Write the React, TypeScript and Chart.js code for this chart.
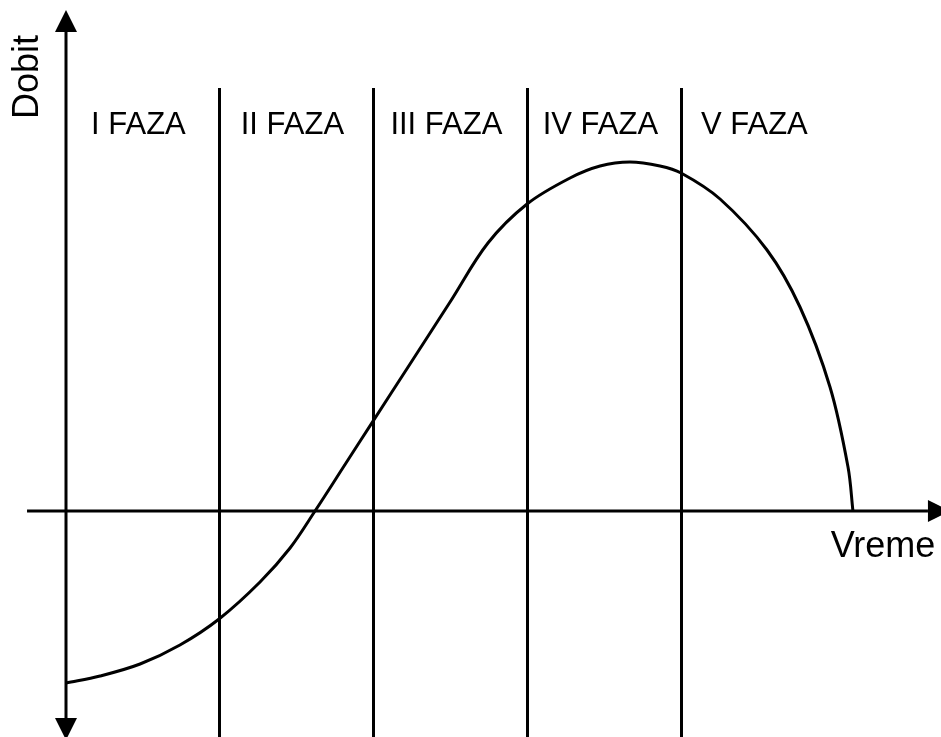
import React, { useEffect, useRef } from "react";
import { Chart, registerables } from "chart.js";

Chart.register(...registerables);

// Profit curve over the product life cycle (time in phases, profit in arbitrary units)
const timeValues = [
  0, 0.221, 0.481, 0.74, 0.994, 1.26, 1.455, 1.617, 1.812, 1.994, 2.234, 2.494,
  2.74, 2.994, 3.273, 3.468, 3.662, 3.857, 3.994, 4.247, 4.552, 4.766, 4.961,
  5.078, 5.11,
];
const profitValues = [
  -1.72, -1.65, -1.53, -1.34, -1.08, -0.71, -0.37, 0, 0.465, 0.899, 1.47, 2.09,
  2.68, 3.07, 3.33, 3.45, 3.49, 3.45, 3.38, 3.12, 2.61, 2.04, 1.24, 0.44, 0,
];
const phaseLabels = ["I FAZA", "II FAZA", "III FAZA", "IV FAZA", "V FAZA"];
const phaseBoundaries = [1, 2, 3, 4];
const yAxisTitle = "Dobit";
const xAxisTitle = "Vreme";

const FONT = '"Liberation Sans", Arial, sans-serif';

const diagramPlugin = {
  id: "lifeCycleDiagram",
  afterDraw(chart: any) {
    const { ctx } = chart;
    const xs = chart.scales.x;
    const ys = chart.scales.y;
    const px = (v: number) => xs.getPixelForValue(v);
    const py = (v: number) => ys.getPixelForValue(v);

    ctx.save();
    ctx.strokeStyle = "#000";
    ctx.fillStyle = "#000";
    ctx.lineWidth = 3;
    ctx.lineCap = "butt";

    const x0 = px(0);
    const y0 = py(0);
    const arrowLen = 22;
    const arrowHalf = 11;

    // phase separators
    const sepTop = py(4.23);
    const bottom = chart.height;
    phaseBoundaries.forEach((b) => {
      const x = Math.round(px(b)) - 0.5;
      ctx.beginPath();
      ctx.moveTo(x, sepTop);
      ctx.lineTo(x, bottom);
      ctx.stroke();
    });

    // vertical axis with arrows at both ends
    const yTop = py(5.01);
    const yBot = py(-2.29);
    ctx.beginPath();
    ctx.moveTo(x0, yTop + arrowLen);
    ctx.lineTo(x0, yBot - arrowLen);
    ctx.stroke();
    ctx.beginPath();
    ctx.moveTo(x0, yTop);
    ctx.lineTo(x0 - arrowHalf, yTop + arrowLen);
    ctx.lineTo(x0 + arrowHalf, yTop + arrowLen);
    ctx.closePath();
    ctx.fill();
    ctx.beginPath();
    ctx.moveTo(x0, yBot);
    ctx.lineTo(x0 - arrowHalf, yBot - arrowLen);
    ctx.lineTo(x0 + arrowHalf, yBot - arrowLen);
    ctx.closePath();
    ctx.fill();

    // horizontal axis with arrow
    const xStart = px(-0.253);
    const xEnd = px(5.74);
    ctx.beginPath();
    ctx.moveTo(xStart, y0);
    ctx.lineTo(xEnd - arrowLen, y0);
    ctx.stroke();
    ctx.beginPath();
    ctx.moveTo(xEnd, y0);
    ctx.lineTo(xEnd - arrowLen, y0 - arrowHalf);
    ctx.lineTo(xEnd - arrowLen, y0 + arrowHalf);
    ctx.closePath();
    ctx.fill();

    // phase labels
    ctx.font = `31px ${FONT}`;
    ctx.textAlign = "center";
    ctx.textBaseline = "alphabetic";
    phaseLabels.forEach((label, i) => {
      ctx.fillText(label, px(i + 0.47), py(3.77));
    });

    // axis titles
    ctx.font = `36px ${FONT}`;
    ctx.textAlign = "right";
    ctx.fillText(xAxisTitle, px(5.645), py(-0.46));

    ctx.save();
    ctx.translate(px(-0.18), py(4.34));
    ctx.rotate(-Math.PI / 2);
    ctx.textAlign = "center";
    ctx.fillText(yAxisTitle, 0, 0);
    ctx.restore();

    ctx.restore();
  },
};

export default function App() {
  const canvasRef = useRef<HTMLCanvasElement | null>(null);

  useEffect(() => {
    if (!canvasRef.current) return;
    const points = timeValues.map((t, i) => ({ x: t, y: profitValues[i] }));
    const chart = new Chart(canvasRef.current, {
      type: "line",
      data: {
        datasets: [
          {
            data: points,
            borderColor: "#000",
            borderWidth: 3,
            pointRadius: 0,
            fill: false,
            tension: 0.35,
          },
        ],
      },
      options: {
        responsive: false,
        maintainAspectRatio: false,
        animation: false,
        layout: { padding: 0 },
        plugins: {
          legend: { display: false },
          tooltip: { enabled: false },
        },
        scales: {
          x: { type: "linear", display: false, min: -66 / 154, max: 875 / 154 },
          y: { type: "linear", display: false, min: -2.26, max: 5.11 },
        },
      },
      plugins: [diagramPlugin],
    });
    return () => chart.destroy();
  }, []);

  return (
    <div style={{ position: "fixed", left: 0, top: 0, width: 941, height: 737, background: "#fff" }}>
      <canvas ref={canvasRef} width={941} height={737} style={{ display: "block" }} />
    </div>
  );
}
